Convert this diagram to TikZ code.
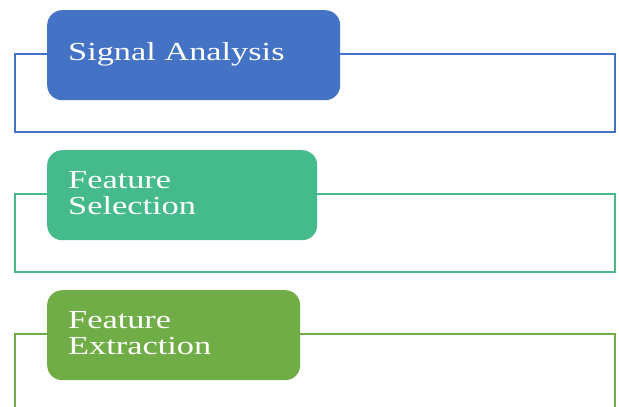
\documentclass[tikz,border=0pt]{standalone}
\usepackage{fontspec}
\setmainfont{Liberation Serif}
\usepackage{graphicx}

\definecolor{sigblue}{HTML}{4472C4}
\definecolor{selgreen}{HTML}{45BA8B}
\definecolor{extgreen}{HTML}{70AD47}

\tikzset{
    stagebox/.style={rounded corners=15pt, minimum width=#1, minimum height=90pt, anchor=north west, inner sep=0pt},
    stagetext/.style={text=white, anchor=base west, inner sep=0pt, align=left, font=\fontsize{26}{26}\selectfont},
    frame/.style={line width=1.2pt}
}

\begin{document}
\begin{tikzpicture}[x=1pt, y=-1pt]
        \useasboundingbox (0, 0) rectangle (619, 407);

        \draw [frame, sigblue] (15, 54) rectangle (615, 132);
        \node[stagebox=293pt, fill=sigblue] (sig) at (47, 10) {};
        \node[stagetext] (sigtext) at (68, 60) {\scalebox{1.32}[1]{Signal Analysis}};

        \draw [frame, selgreen] (15, 194) rectangle (615, 272);
        \node[stagebox=270pt, fill=selgreen] (sel) at (47, 150) {};
        \node[stagetext] (seltext) at (68, 214) {\scalebox{1.32}[1]{Feature}\\\scalebox{1.32}[1]{Selection}};

        \draw [frame, extgreen] (15, 407) |- (615, 334) -- (615, 407);
        \node[stagebox=253pt, fill=extgreen] (ext) at (47, 290) {};
        \node[stagetext] (exttext) at (68, 354) {\scalebox{1.32}[1]{Feature}\\\scalebox{1.32}[1]{Extraction}};

    \end{tikzpicture}
\end{document}
